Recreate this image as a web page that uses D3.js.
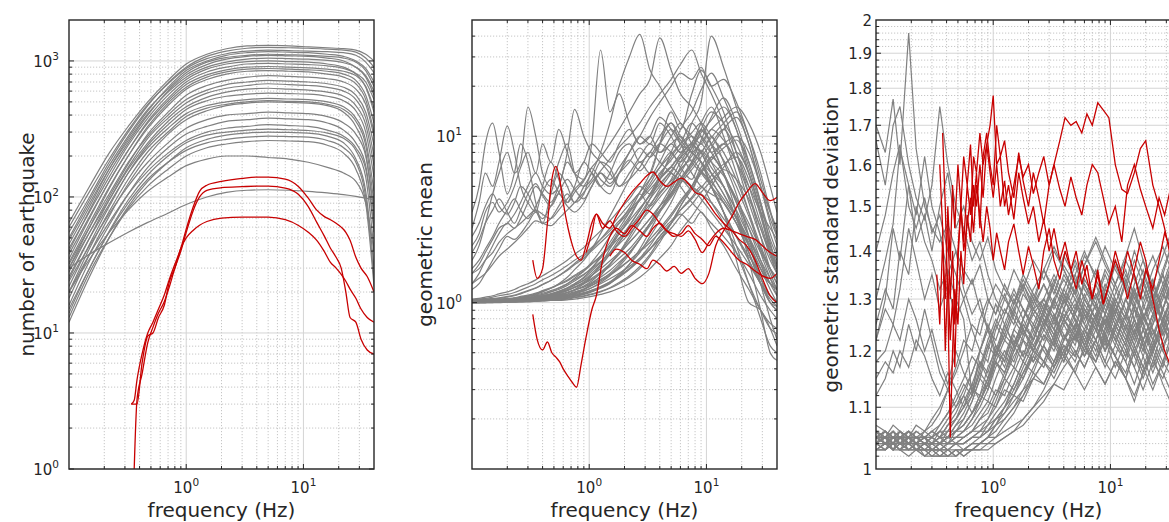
<!DOCTYPE html>
<html>
<head>
<meta charset="utf-8">
<script src="https://cdn.jsdelivr.net/npm/d3@7"></script>
<style>
  body { margin: 0; background: #fff; }
  text { font-family: "DejaVu Sans", sans-serif; fill: #262626; }
</style>
</head>
<body>
<div id="chart"></div>
<script>
/* CONSTANTS */
const width = 1169,
  height = 522,
  plotTop = 20,
  plotBottom = 469,
  panelW = 305,
  freqDomain = [0.1, 40];

/* DATA - number of earthquakes per station */
const eqFreq = [0.1, 0.15, 0.22, 0.32, 0.47, 0.7, 1, 1.5, 2.2, 3.3, 5, 7.5, 11, 16, 22, 28, 34, 40];
const eqGray = [
  [65,120,210,330,500,720,950,1120,1230,1290,1300,1290,1270,1250,1230,1200,1120,1000],
  [55,100,180,300,470,690,900,1080,1180,1240,1260,1250,1240,1220,1200,1160,1050,900],
  [60,110,190,310,480,680,880,1040,1130,1180,1200,1190,1180,1170,1150,1100,980,820],
  [45,85,160,270,430,640,850,1000,1100,1150,1170,1160,1150,1120,1080,1000,880,700],
  [50,95,170,280,440,620,820,980,1060,1100,1120,1110,1100,1080,1050,980,850,650],
  [40,80,150,250,400,600,790,940,1030,1080,1100,1090,1080,1050,1000,900,760,560],
  [48,90,160,260,410,590,760,900,980,1030,1050,1040,1030,1010,970,900,780,600],
  [42,78,140,240,380,560,730,870,950,990,1000,990,980,950,900,800,650,450],
  [35,70,130,220,360,530,700,830,900,950,960,950,940,920,880,810,700,520],
  [38,72,130,220,350,510,670,790,860,900,910,900,890,870,840,780,640,420],
  [30,60,115,200,330,490,640,760,830,870,880,870,860,840,800,720,560,350],
  [33,64,118,200,320,470,620,730,800,840,850,840,830,800,760,680,520,300],
  [28,55,100,175,290,420,560,660,720,760,780,770,760,740,700,620,480,280],
  [32,60,105,180,280,400,520,610,670,700,720,710,700,680,640,560,420,240],
  [25,50,95,165,270,380,490,580,630,660,680,670,660,640,600,520,380,200],
  [30,55,95,160,250,360,460,540,590,620,630,620,610,590,550,470,340,170],
  [22,45,85,150,240,340,440,510,550,570,580,575,570,550,510,430,300,140],
  [26,50,88,150,230,320,410,470,500,520,530,525,520,500,460,380,260,110],
  [20,42,78,135,215,300,390,450,480,500,510,505,500,480,440,360,240,90],
  [18,38,72,125,200,290,370,430,470,490,500,495,490,470,420,330,210,70],
  [24,44,75,120,180,250,320,370,400,410,420,415,410,390,350,290,200,80],
  [16,34,62,105,165,230,290,330,360,370,380,375,370,350,310,250,170,55],
  [20,38,65,105,155,210,260,300,320,330,340,335,330,310,280,230,160,60],
  [14,30,56,95,145,200,250,285,300,310,315,312,308,295,270,220,140,40],
  [12,26,50,85,130,180,230,265,285,295,300,298,295,280,250,190,110,30],
  [15,30,55,90,135,180,220,250,265,275,280,278,275,260,230,180,100,25],
  [13,28,50,82,120,160,200,230,245,255,260,258,255,240,210,160,90,22],
  [20,35,55,80,110,140,170,190,200,200,195,190,180,165,150,130,90,40],
  [30,38,46,55,65,76,88,100,108,112,113,112,110,107,104,101,98,95]
];
const eqRedFreq = [0.34,0.36,0.38,0.42,0.47,0.52,0.58,0.65,0.72,0.8,0.9,1.0,1.15,1.3,1.5,2,3,4,5,7,9,11,13,15,17,19,21,23,25,28,31,35,40];
const eqRed = [
  [3,3.2,4.5,7,10,12,15,19,25,32,42,58,85,110,122,130,137,140,140,135,120,98,80,72,68,64,60,55,48,36,30,26,20],
  [null,1,3.2,5,8.5,11,14,17,22,30,40,55,80,100,112,117,119,120,120,116,105,85,65,52,42,36,30,20,13,12,9,7.5,7],
  [3,3,3,6,9.5,10,13,16,24,30,42,50,57,62,66,70,71,71,71,68,62,55,48,40,33,30,27,24,21,18,15,13,12]
];

/* DATA - geometric mean */
const gmFreq = [0.1,0.115,0.13,0.15,0.17,0.2,0.23,0.26,0.3,0.35,0.4,0.47,0.55,0.65,0.75,0.9,1.05,1.25,1.5,1.8,2.2,2.7,3.3,4,5,6,7.5,9,11,14,18,23,29,35,40];
const gmGray = [
  [1.02,1.02,1.02,1.02,1.02,1.03,1.03,1.03,1.04,1.05,1.06,1.08,1.1,1.15,1.2,1.3,1.45,1.7,2.1,2.6,3.2,4.2,5.5,7,9,8,12,16,40,26,15,9,5,3.5,2.8],
  [1.01,1.01,1.01,1.01,1.02,1.02,1.02,1.03,1.03,1.04,1.05,1.06,1.08,1.1,1.14,1.2,1.3,1.45,1.7,2,2.5,3.2,4.2,5.5,8,11,14,19,24,17,11,6,3.5,2.2,1.8],
  [1.02,1.02,1.03,1.03,1.03,1.04,1.04,1.05,1.06,1.07,1.09,1.12,1.16,1.22,1.3,1.42,1.6,1.9,2.3,2.8,3.5,4.6,6,9,14,11,18,25,20,14,8,4.5,2.5,1.6,1.3],
  [1.0,1.0,1.0,1.01,1.01,1.01,1.01,1.02,1.02,1.03,1.03,1.04,1.05,1.07,1.09,1.12,1.16,1.22,1.3,1.45,1.7,2.1,2.7,3.5,4.8,6,8,11,14,12,9,6,3.5,2.2,1.7],
  [1.03,1.03,1.03,1.04,1.04,1.05,1.06,1.07,1.09,1.12,1.16,1.22,1.3,1.42,1.58,1.8,2.1,2.6,3.3,4.2,5.5,7,6,9,12,10,8,7,6,5,3.5,2.2,1.4,1,0.9],
  [1.01,1.01,1.02,1.02,1.02,1.03,1.03,1.04,1.05,1.06,1.08,1.1,1.13,1.18,1.24,1.33,1.45,1.65,1.95,2.3,2.9,3.6,4.5,5.8,7.5,9,12,10,8,9,7,5,3.5,2.8,2.4],
  [1.0,1.0,1.01,1.01,1.01,1.01,1.02,1.02,1.02,1.03,1.04,1.05,1.06,1.08,1.1,1.13,1.17,1.24,1.33,1.48,1.7,2,2.5,3.1,4,5.2,7,9.5,13,17,12,7,4,2.6,2],
  [1.02,1.02,1.02,1.03,1.03,1.03,1.04,1.04,1.05,1.06,1.07,1.09,1.11,1.15,1.19,1.26,1.35,1.5,1.7,2,2.4,3,3.8,4.8,6,7.5,9,8,10,7,4.5,2.5,1.3,0.8,0.6],
  [1.01,1.01,1.01,1.01,1.02,1.02,1.02,1.03,1.03,1.04,1.05,1.06,1.08,1.1,1.13,1.17,1.23,1.32,1.45,1.65,1.95,2.4,3,3.8,5,6.5,8.5,11,9,6,3.5,1.8,0.9,0.5,0.45],
  [1.03,1.03,1.04,1.04,1.05,1.05,1.06,1.07,1.08,1.1,1.12,1.16,1.2,1.27,1.35,1.47,1.62,1.85,2.2,2.7,3.3,4.2,5.2,6.5,8,6.5,5.5,7,5,3.5,2.2,1.3,0.8,0.55,0.5],
  [1.0,1.0,1.0,1.0,1.01,1.01,1.01,1.01,1.02,1.02,1.03,1.03,1.04,1.05,1.07,1.09,1.12,1.16,1.22,1.3,1.42,1.6,1.9,2.3,3,3.8,5,6.5,8.5,11,13,9,5,3,2.2],
  [1.02,1.02,1.03,1.03,1.04,1.04,1.05,1.06,1.07,1.08,1.1,1.13,1.17,1.23,1.3,1.4,1.55,1.75,2,2.4,2.9,3.6,4.5,5.5,6.5,7.5,6,5,4.5,4,3,2,1.3,1,0.9],
  [1.01,1.01,1.01,1.02,1.02,1.02,1.03,1.03,1.04,1.05,1.06,1.07,1.09,1.12,1.15,1.2,1.27,1.37,1.5,1.7,2,2.4,3,3.6,4.5,5.5,4.8,6,5,3.5,1.8,1,0.9,0.7,0.55],
  [1.02,1.02,1.02,1.02,1.03,1.03,1.03,1.04,1.04,1.05,1.06,1.07,1.08,1.1,1.12,1.15,1.19,1.25,1.33,1.45,1.6,1.85,2.2,2.7,3.3,4,5,6.2,7.5,9,10,8,5,3.2,2.5],
  [1.01,1.01,1.02,1.02,1.02,1.03,1.03,1.04,1.05,1.06,1.08,1.11,1.15,1.2,1.27,1.37,1.5,1.7,1.95,2.3,2.8,3.4,4.2,5,6,5,4,3.5,3,2.5,2,1.5,1.1,0.9,0.8],
  [1.03,1.03,1.03,1.04,1.04,1.05,1.05,1.06,1.07,1.08,1.1,1.12,1.15,1.19,1.24,1.31,1.4,1.53,1.7,1.95,2.3,2.7,3.2,3.8,4.5,5.5,7,8,6.5,5,3.2,2,1.3,1,0.95],
  [1.0,1.0,1.0,1.01,1.01,1.01,1.01,1.02,1.02,1.02,1.03,1.04,1.05,1.06,1.08,1.1,1.13,1.17,1.23,1.32,1.45,1.65,1.95,2.4,3,3.8,4.8,6,7.5,6,4,2.5,1.7,1.3,1.2],
  [1.02,1.02,1.02,1.03,1.03,1.04,1.05,1.06,1.07,1.09,1.12,1.16,1.22,1.3,1.4,1.55,1.75,2.05,2.5,3,3.7,4.5,3.8,4.5,5.5,7,9,12,15,10,6,3.5,2,1.4,1.1],
  [1.01,1.01,1.01,1.01,1.02,1.02,1.02,1.02,1.03,1.03,1.04,1.05,1.06,1.08,1.1,1.13,1.17,1.23,1.31,1.42,1.58,1.8,2.1,2.5,3,3.6,4.3,5,4,3,2,1.3,0.9,0.7,0.65],
  [1.02,1.02,1.03,1.03,1.03,1.04,1.04,1.05,1.06,1.07,1.08,1.1,1.12,1.15,1.19,1.25,1.32,1.42,1.56,1.75,2,2.4,2.9,3.5,4.3,5.2,6.3,7.5,9,11,8,5,3,2,1.6],
  [1.01,1.01,1.02,1.02,1.02,1.02,1.03,1.03,1.04,1.04,1.05,1.06,1.07,1.09,1.11,1.14,1.18,1.24,1.32,1.44,1.6,1.8,2.1,2.5,3,3.4,3,3.5,2.8,2.2,1.6,1.2,0.9,0.75,0.7],
  [1.0,1.0,1.0,1.0,1.0,1.01,1.01,1.01,1.01,1.02,1.02,1.03,1.03,1.04,1.05,1.07,1.09,1.12,1.16,1.22,1.3,1.42,1.6,1.85,2.2,2.7,3.3,4,5,6.5,8,6,3.5,2,1.5],
  [1.03,1.03,1.04,1.05,1.06,1.08,1.1,1.13,1.17,1.22,1.28,1.36,1.45,1.58,1.72,1.9,2.1,2.4,2.8,3.3,3.9,4.6,5.5,6.5,7.8,9,10.5,12,10,8,5.5,3.5,2.2,1.6,1.3],
  [1.02,1.02,1.03,1.03,1.04,1.05,1.06,1.08,1.1,1.13,1.17,1.22,1.28,1.35,1.44,1.55,1.7,1.9,2.2,2.6,3.1,3.7,4.4,5.2,6.2,7.4,8.8,10.5,12.5,15,11,6.5,3.8,2.4,1.9],
  [1.01,1.01,1.02,1.02,1.02,1.03,1.04,1.05,1.06,1.08,1.1,1.13,1.17,1.22,1.28,1.36,1.46,1.6,1.78,2,2.3,2.7,3.2,3.8,4.6,5.6,6.8,8.2,7,5.8,4.2,2.8,1.8,1.3,1.1],
  [1.04,1.05,1.06,1.08,1.1,1.12,1.15,1.19,1.24,1.3,1.37,1.45,1.55,1.67,1.8,1.95,2.15,2.4,2.7,3.1,3.6,4.2,5,6,7.2,8.5,10,9,11,9.5,7,4.5,2.8,2,1.7],
  [1.02,1.02,1.02,1.03,1.03,1.04,1.04,1.05,1.06,1.07,1.09,1.11,1.14,1.18,1.23,1.3,1.38,1.5,1.65,1.85,2.1,2.5,3,3.6,4.4,5.4,6.6,8,9.8,12,14,10,6,3.6,2.6],
  [1.05,1.06,1.08,1.1,1.13,1.16,1.2,1.25,1.3,1.37,1.45,1.55,1.66,1.8,1.95,2.15,2.4,2.7,3.1,3.6,4.2,5,4.5,5.5,6.5,5.8,5,4.2,3.5,2.8,2.2,1.7,1.3,1.05,0.95],
  [1.01,1.01,1.01,1.02,1.02,1.02,1.03,1.03,1.04,1.05,1.06,1.08,1.1,1.13,1.16,1.21,1.27,1.35,1.46,1.6,1.8,2.05,2.4,2.8,3.4,4.1,5,6,7.2,8.5,9.5,7,4,2.3,1.6],
  [1.03,1.03,1.04,1.04,1.05,1.06,1.07,1.09,1.11,1.14,1.18,1.23,1.29,1.37,1.46,1.58,1.72,1.9,2.15,2.45,2.8,3.3,3.9,4.6,5.4,6.3,7.2,6.2,5.3,4.2,3.2,2.3,1.6,1.2,1],
  [1.02,1.02,1.03,1.03,1.04,1.05,1.06,1.07,1.09,1.11,1.14,1.18,1.23,1.3,1.38,1.48,1.6,1.76,1.98,2.25,2.6,3.05,3.6,4.3,5.2,6.3,7.6,9.2,11,13,15,12,8,5,3.5],
  [1.0,1.01,1.01,1.01,1.01,1.02,1.02,1.03,1.03,1.04,1.05,1.07,1.09,1.11,1.14,1.18,1.23,1.3,1.39,1.5,1.65,1.85,2.1,2.4,2.8,3.3,3.9,4.6,5.4,6.3,5.5,4.2,2.8,1.9,1.5],
  [1.04,1.04,1.05,1.06,1.07,1.09,1.11,1.14,1.18,1.23,1.29,1.36,1.45,1.56,1.69,1.85,2.05,2.3,2.6,3,3.5,4.1,4.8,5.6,6.6,7.8,9.2,10.8,9,7.2,5,3.3,2.1,1.5,1.2],
  [1.01,1.02,1.02,1.02,1.03,1.03,1.04,1.04,1.05,1.06,1.08,1.1,1.12,1.15,1.19,1.24,1.3,1.38,1.48,1.62,1.8,2.02,2.3,2.65,3.1,3.6,4.2,4.9,5.8,6.8,7.5,5.5,3.3,2.1,1.6],
  [3.5,5,9,12,8,4.5,6,9,7,4,3,4.5,6,5,4,4.5,6,5,4.5,6,8,10,9,12,10,8,9,7,5,3.5,2.5,1.8,1.3,1.1,1],
  [2.8,4,6,5,7,11.5,8,5,4,3.5,5,7,5.5,4,5,7,6,5,6,8,9,7,8,10,12,9,7,6,5,4,3,2,1.4,1.1,1],
  [1.8,2.2,3,4.5,6,8,6,7,15,10,6,5,7,9,6,5,5.5,7,6.5,5,6,7.5,9,8,10,12,9,8,6,4.5,3.2,2.2,1.6,1.3,1.2],
  [2.2,2.6,3.5,4,3.5,4,5,6.5,8,6,9,7,11,8,6,7,9,8,7,9,11,9,10,13,11,9,8,7,5.5,4,3,2.2,1.6,1.3,1.2],
  [1.5,1.7,2,2.4,2.8,3,3.4,4,5,6,5,4.5,5,8,14.5,10,8,7,6,5,5.5,6.5,8,7,6,5.5,5,4.5,4,3.2,2.5,1.9,1.5,1.3,1.2],
  [1.3,1.5,1.8,2.2,2.6,3,2.8,3.2,4,5,4.5,4,5,7,6,5.5,9,33,14,18,12,9,10,8,9,10,8,7,5,3.5,2.5,1.8,1.3,1.1,1],
  [1.2,1.3,1.5,1.8,2.1,2.5,2.4,2.6,3,3.5,3,3.2,3.8,4.5,4,5,6,8,12,20,30,41,25,20,15,12,10,8,6,4.5,3.3,2.4,1.7,1.3,1.2],
  [1.5,1.6,1.8,2,2.3,2.6,2.8,3,3.3,3.6,3.4,3.2,3.6,4.2,4.8,5.5,6.5,7.5,9,11,14,18,22,39,25,18,15,12,9,6,4,2.8,2,1.6,1.4],
  [1.3,1.4,1.5,1.7,1.9,2.1,2.3,2.5,2.8,3.1,3,2.9,3.2,3.6,4,4.6,5.3,6.2,7.3,8.6,10,12,15,18,22,27,33,24,18,12,7,4,2.5,1.8,1.5],
  [2.5,3,3.8,4.5,3.8,3.4,4,5,4.5,3.6,3.2,3.8,4.5,3.8,3.5,4,5,6,5.5,6.5,8,10,13,16,20,24,22,26,20,22,16,10,5.5,3.5,2.5],
  [2,2.4,3,3.6,4.2,3.5,3,3.6,4.5,5.2,4.4,3.8,4.6,5.5,4.8,4.2,5,6,5.2,6,7,8.5,7.5,9,11,9.5,8,9,7,5,3.6,2.5,1.8,1.4,1.2],
  [1.6,1.8,2.1,2.5,3,3.6,4.2,3.6,3.2,3.8,4.6,5.5,4.6,4,4.6,5.4,6.4,5.5,5,6,7.2,6.2,7.5,9,8,7,8.5,10,8,6,4.2,3,2.1,1.6,1.4]
];
const gmRedFreq = [0.33,0.36,0.4,0.44,0.48,0.52,0.56,0.6,0.66,0.72,0.78,0.85,0.94,1.05,1.15,1.3,1.5,1.7,2.0,2.3,2.7,3.1,3.5,4.0,4.6,5.3,6.1,7,8,9.2,10.5,12,14,16.5,19,22,26,30,35,40];
const gmRed = [
  [0.85,0.6,0.52,0.58,0.5,0.47,0.44,0.4,0.36,0.33,0.31,0.42,0.62,0.9,1.1,1.8,2.5,2.8,2.6,2.9,2.7,2.5,2.8,3.0,2.7,2.5,2.6,2.9,2.6,2.4,2.2,2.5,2.3,2.0,1.8,1.7,1.55,1.45,1.4,1.5],
  [1.8,1.4,1.6,3,5.5,6.6,5.5,4,2.8,2.2,1.9,1.8,2.2,3.0,3.4,2.8,3.1,2.7,2.5,2.8,3.2,3.6,3.4,3.0,2.7,2.6,2.5,2.7,2.4,2.0,2.3,2.6,2.8,2.7,2.6,2.5,2.4,2.2,2.0,1.9],
  [null,null,null,null,null,null,null,null,null,null,null,null,2.0,2.6,3.4,3.0,2.8,3.3,4.0,4.6,5.2,5.8,6.1,5.4,5.0,5.3,5.6,5.2,4.6,4.4,3.9,3.4,3.0,2.7,2.4,2.2,1.8,1.4,1.1,1.0],
  [null,null,null,null,null,null,null,null,null,null,null,null,null,null,null,null,1.9,2.1,2.0,1.8,1.7,1.6,1.8,1.7,1.55,1.65,1.5,1.6,1.4,1.3,1.5,2.2,2.7,3.3,4.0,4.6,5.2,4.6,4.1,4.3]
];

/* DATA - geometric standard deviation */
const sdFreq = [0.1,0.12,0.14,0.16,0.19,0.22,0.26,0.3,0.35,0.41,0.48,0.56,0.66,0.77,0.9,1.05,1.25,1.5,1.8,2.2,2.7,3.3,4,5,6,7.5,9,11,13.5,16,19,23,28,34];
const sdGray = [
  [1.04,1.05,1.03,1.05,1.04,1.04,1.05,1.03,1.04,1.06,1.08,1.1,1.13,1.12,1.17,1.2,1.18,1.24,1.22,1.28,1.25,1.3,1.26,1.32,1.27,1.24,1.3,1.26,1.22,1.28,1.25,1.2,1.26,1.3],
  [1.05,1.04,1.06,1.04,1.05,1.03,1.04,1.04,1.05,1.04,1.06,1.07,1.09,1.12,1.11,1.15,1.19,1.17,1.22,1.2,1.26,1.23,1.28,1.24,1.21,1.27,1.23,1.19,1.25,1.21,1.17,1.22,1.28,1.35],
  [1.03,1.04,1.04,1.03,1.05,1.04,1.03,1.04,1.03,1.04,1.04,1.05,1.06,1.08,1.1,1.13,1.12,1.16,1.2,1.18,1.23,1.21,1.26,1.22,1.29,1.25,1.2,1.24,1.3,1.26,1.22,1.27,1.32,1.38],
  [1.06,1.05,1.04,1.06,1.05,1.04,1.05,1.06,1.05,1.07,1.09,1.12,1.16,1.2,1.18,1.24,1.28,1.25,1.31,1.28,1.33,1.29,1.35,1.31,1.27,1.33,1.28,1.24,1.3,1.35,1.29,1.24,1.2,1.26],
  [1.04,1.03,1.05,1.04,1.03,1.04,1.03,1.03,1.04,1.03,1.04,1.04,1.05,1.05,1.07,1.08,1.1,1.12,1.11,1.15,1.18,1.16,1.2,1.23,1.19,1.22,1.18,1.15,1.2,1.17,1.13,1.18,1.24,1.3],
  [1.05,1.06,1.05,1.04,1.06,1.05,1.04,1.05,1.07,1.09,1.12,1.15,1.19,1.17,1.22,1.26,1.23,1.28,1.32,1.27,1.3,1.35,1.31,1.27,1.34,1.3,1.36,1.32,1.27,1.33,1.38,1.31,1.26,1.22],
  [1.03,1.04,1.03,1.04,1.04,1.03,1.04,1.03,1.03,1.04,1.04,1.04,1.05,1.06,1.06,1.08,1.09,1.11,1.13,1.15,1.14,1.18,1.21,1.19,1.24,1.21,1.17,1.21,1.18,1.14,1.19,1.24,1.2,1.16],
  [1.06,1.04,1.05,1.05,1.04,1.06,1.05,1.05,1.06,1.06,1.08,1.1,1.12,1.16,1.14,1.19,1.23,1.21,1.26,1.3,1.26,1.22,1.28,1.33,1.28,1.25,1.31,1.27,1.34,1.29,1.25,1.3,1.36,1.42],
  [1.04,1.05,1.04,1.06,1.05,1.05,1.04,1.05,1.04,1.05,1.05,1.06,1.07,1.09,1.11,1.1,1.14,1.17,1.15,1.2,1.24,1.21,1.18,1.23,1.2,1.26,1.22,1.28,1.23,1.19,1.24,1.29,1.35,1.28],
  [1.05,1.05,1.06,1.05,1.05,1.04,1.06,1.07,1.09,1.13,1.17,1.22,1.2,1.26,1.3,1.27,1.33,1.29,1.35,1.31,1.28,1.34,1.3,1.37,1.32,1.28,1.33,1.29,1.35,1.31,1.26,1.32,1.28,1.24],
  [1.03,1.03,1.04,1.03,1.03,1.04,1.03,1.03,1.03,1.03,1.04,1.03,1.04,1.04,1.05,1.05,1.06,1.07,1.08,1.1,1.12,1.14,1.13,1.17,1.2,1.18,1.22,1.19,1.16,1.21,1.17,1.13,1.18,1.22],
  [1.04,1.06,1.05,1.04,1.05,1.06,1.05,1.04,1.05,1.06,1.06,1.07,1.09,1.11,1.14,1.18,1.16,1.21,1.25,1.22,1.27,1.24,1.3,1.26,1.23,1.29,1.25,1.21,1.27,1.23,1.29,1.34,1.27,1.22],
  [1.05,1.04,1.03,1.05,1.06,1.04,1.05,1.04,1.06,1.05,1.07,1.08,1.11,1.15,1.13,1.18,1.22,1.2,1.24,1.21,1.25,1.29,1.25,1.21,1.27,1.24,1.2,1.25,1.21,1.26,1.32,1.27,1.23,1.3],
  [1.04,1.03,1.04,1.05,1.04,1.03,1.04,1.04,1.04,1.05,1.04,1.05,1.06,1.07,1.08,1.1,1.13,1.12,1.16,1.19,1.17,1.22,1.26,1.23,1.19,1.24,1.29,1.25,1.21,1.26,1.22,1.18,1.15,1.2],
  [1.06,1.05,1.07,1.06,1.05,1.07,1.06,1.08,1.1,1.13,1.16,1.2,1.25,1.23,1.29,1.33,1.3,1.36,1.32,1.38,1.34,1.4,1.36,1.31,1.37,1.42,1.37,1.33,1.38,1.34,1.3,1.36,1.41,1.35],
  [1.03,1.04,1.04,1.05,1.03,1.04,1.04,1.03,1.04,1.04,1.05,1.05,1.06,1.08,1.09,1.12,1.15,1.13,1.17,1.21,1.18,1.15,1.19,1.16,1.21,1.17,1.14,1.18,1.15,1.11,1.16,1.2,1.25,1.31],
  [1.05,1.05,1.04,1.05,1.06,1.05,1.06,1.05,1.06,1.08,1.1,1.13,1.16,1.2,1.24,1.22,1.27,1.31,1.28,1.24,1.29,1.26,1.32,1.28,1.33,1.29,1.25,1.31,1.36,1.3,1.34,1.28,1.33,1.39],
  [1.04,1.04,1.05,1.04,1.04,1.05,1.04,1.04,1.05,1.04,1.05,1.05,1.06,1.06,1.07,1.09,1.11,1.14,1.18,1.16,1.21,1.18,1.23,1.2,1.17,1.22,1.27,1.23,1.19,1.24,1.2,1.25,1.31,1.37],
  [1.05,1.06,1.05,1.06,1.04,1.05,1.05,1.06,1.05,1.07,1.08,1.11,1.14,1.18,1.16,1.21,1.19,1.24,1.28,1.25,1.3,1.27,1.22,1.27,1.31,1.26,1.23,1.28,1.24,1.29,1.25,1.21,1.17,1.23],
  [1.03,1.04,1.03,1.03,1.04,1.04,1.03,1.04,1.03,1.04,1.04,1.04,1.05,1.05,1.06,1.07,1.08,1.1,1.12,1.15,1.18,1.22,1.19,1.24,1.2,1.25,1.21,1.27,1.23,1.19,1.15,1.2,1.16,1.12],
  [1.05,1.04,1.05,1.05,1.06,1.05,1.05,1.06,1.07,1.09,1.11,1.14,1.12,1.17,1.21,1.25,1.22,1.27,1.24,1.29,1.33,1.28,1.32,1.38,1.33,1.29,1.35,1.3,1.26,1.31,1.36,1.3,1.25,1.21],
  [1.04,1.05,1.04,1.04,1.05,1.04,1.05,1.05,1.04,1.05,1.06,1.06,1.08,1.1,1.13,1.17,1.2,1.18,1.23,1.27,1.24,1.3,1.34,1.3,1.26,1.31,1.27,1.33,1.28,1.23,1.28,1.33,1.39,1.45],
  [1.05,1.04,1.04,1.03,1.04,1.03,1.03,1.02,1.03,1.02,1.03,1.03,1.04,1.05,1.06,1.08,1.1,1.13,1.16,1.2,1.18,1.23,1.27,1.24,1.3,1.26,1.32,1.28,1.24,1.29,1.34,1.28,1.23,1.27],
  [1.06,1.05,1.05,1.04,1.04,1.03,1.04,1.03,1.03,1.03,1.02,1.03,1.03,1.04,1.05,1.07,1.09,1.12,1.15,1.19,1.23,1.2,1.25,1.29,1.25,1.31,1.27,1.22,1.27,1.32,1.26,1.3,1.35,1.3],
  [1.04,1.05,1.03,1.04,1.03,1.04,1.02,1.03,1.02,1.03,1.03,1.02,1.03,1.03,1.04,1.04,1.05,1.06,1.08,1.1,1.13,1.17,1.21,1.18,1.23,1.19,1.24,1.29,1.25,1.21,1.26,1.31,1.25,1.2],
  [1.07,1.06,1.05,1.06,1.05,1.04,1.05,1.04,1.04,1.05,1.06,1.08,1.11,1.15,1.2,1.25,1.3,1.27,1.33,1.29,1.36,1.32,1.28,1.35,1.4,1.34,1.3,1.37,1.32,1.28,1.34,1.39,1.33,1.28],
  [1.04,1.04,1.03,1.04,1.03,1.03,1.03,1.02,1.02,1.03,1.02,1.03,1.03,1.04,1.04,1.05,1.07,1.09,1.12,1.16,1.14,1.18,1.22,1.26,1.22,1.18,1.23,1.19,1.15,1.2,1.24,1.19,1.14,1.1],
  [1.05,1.06,1.04,1.05,1.05,1.04,1.04,1.05,1.04,1.05,1.07,1.09,1.12,1.16,1.21,1.19,1.25,1.3,1.26,1.32,1.36,1.31,1.37,1.33,1.39,1.35,1.41,1.36,1.32,1.38,1.33,1.29,1.35,1.42],
  [1.03,1.04,1.04,1.03,1.03,1.03,1.02,1.03,1.02,1.02,1.03,1.02,1.03,1.03,1.03,1.04,1.05,1.06,1.07,1.09,1.11,1.14,1.17,1.2,1.17,1.22,1.26,1.22,1.27,1.23,1.19,1.14,1.18,1.24],
  [1.06,1.05,1.06,1.05,1.06,1.05,1.05,1.04,1.05,1.05,1.06,1.07,1.09,1.12,1.15,1.19,1.24,1.29,1.34,1.3,1.36,1.41,1.36,1.31,1.37,1.43,1.38,1.33,1.39,1.45,1.38,1.33,1.28,1.33],
  [1.04,1.05,1.05,1.04,1.04,1.03,1.03,1.03,1.03,1.02,1.03,1.03,1.04,1.04,1.05,1.06,1.08,1.1,1.13,1.17,1.21,1.26,1.22,1.28,1.33,1.28,1.24,1.3,1.26,1.32,1.27,1.22,1.28,1.34],
  [1.05,1.04,1.05,1.04,1.05,1.04,1.04,1.03,1.04,1.04,1.05,1.06,1.08,1.11,1.14,1.18,1.16,1.21,1.26,1.31,1.27,1.33,1.29,1.35,1.3,1.26,1.32,1.38,1.33,1.28,1.22,1.27,1.32,1.37],
  [1.03,1.03,1.04,1.03,1.02,1.03,1.02,1.02,1.02,1.02,1.02,1.03,1.03,1.04,1.05,1.07,1.1,1.14,1.18,1.23,1.28,1.24,1.3,1.26,1.21,1.27,1.23,1.29,1.24,1.2,1.16,1.21,1.26,1.31],
  [1.05,1.06,1.05,1.05,1.04,1.05,1.04,1.04,1.04,1.03,1.04,1.04,1.05,1.06,1.08,1.11,1.15,1.2,1.25,1.22,1.28,1.33,1.39,1.34,1.3,1.36,1.31,1.27,1.33,1.4,1.35,1.3,1.26,1.31],
  [1.7,1.63,1.77,1.6,1.96,1.64,1.5,1.45,1.42,1.46,1.4,1.36,1.33,1.37,1.3,1.27,1.31,1.26,1.23,1.28,1.25,1.21,1.26,1.3,1.25,1.22,1.27,1.23,1.19,1.24,1.2,1.26,1.31,1.27],
  [1.66,1.55,1.7,1.75,1.6,1.52,1.47,1.55,1.75,1.6,1.5,1.45,1.38,1.42,1.35,1.3,1.27,1.32,1.28,1.24,1.29,1.25,1.3,1.26,1.22,1.27,1.31,1.26,1.22,1.28,1.24,1.2,1.25,1.21],
  [1.3,1.38,1.46,1.64,1.55,1.42,1.48,1.4,1.5,1.58,1.45,1.5,1.42,1.38,1.43,1.36,1.32,1.29,1.33,1.28,1.3,1.26,1.31,1.27,1.24,1.29,1.25,1.3,1.26,1.22,1.27,1.23,1.28,1.34],
  [1.22,1.28,1.25,1.32,1.45,1.38,1.3,1.35,1.28,1.33,1.26,1.3,1.24,1.2,1.25,1.21,1.18,1.23,1.19,1.24,1.2,1.17,1.22,1.25,1.21,1.18,1.23,1.19,1.15,1.2,1.16,1.21,1.26,1.22],
  [1.18,1.2,1.25,1.22,1.3,1.26,1.2,1.24,1.18,1.14,1.2,1.16,1.13,1.18,1.15,1.2,1.17,1.22,1.19,1.25,1.22,1.27,1.23,1.19,1.24,1.2,1.26,1.22,1.18,1.23,1.27,1.22,1.18,1.15],
  [1.25,1.32,1.28,1.4,1.35,1.5,1.42,1.38,1.32,1.36,1.3,1.26,1.12,1.2,1.24,1.19,1.23,1.28,1.24,1.2,1.26,1.22,1.18,1.23,1.27,1.22,1.18,1.24,1.2,1.25,1.21,1.17,1.22,1.28],
  [1.4,1.48,1.58,1.65,1.5,1.45,1.52,1.44,1.48,1.4,1.35,1.3,1.34,1.28,1.24,1.29,1.25,1.21,1.26,1.22,1.28,1.24,1.2,1.25,1.3,1.26,1.22,1.17,1.22,1.26,1.21,1.25,1.3,1.36],
  [1.15,1.18,1.16,1.2,1.17,1.22,1.19,1.15,1.12,1.16,1.13,1.1,1.14,1.11,1.15,1.18,1.15,1.19,1.22,1.18,1.21,1.17,1.2,1.16,1.13,1.17,1.14,1.18,1.15,1.12,1.16,1.2,1.24,1.28],
  [1.22,1.3,1.45,1.38,1.55,1.48,1.62,1.5,1.44,1.35,1.4,1.32,1.27,1.3,1.24,1.2,1.25,1.21,1.18,1.22,1.27,1.23,1.19,1.25,1.21,1.26,1.3,1.25,1.21,1.17,1.22,1.27,1.32,1.26],
  [1.12,1.15,1.2,1.17,1.25,1.2,1.28,1.22,1.16,1.13,1.1,1.12,1.09,1.11,1.14,1.12,1.16,1.2,1.24,1.2,1.25,1.3,1.26,1.22,1.28,1.24,1.2,1.25,1.3,1.26,1.21,1.16,1.21,1.25]
];
const sdRedFreq = [0.33,0.35,0.37,0.39,0.41,0.43,0.45,0.47,0.5,0.53,0.56,0.6,0.64,0.68,0.72,0.77,0.82,0.88,0.94,1.0,1.07,1.15,1.25,1.35,1.5,1.65,1.8,2.0,2.2,2.45,2.7,3.0,3.3,3.7,4.1,4.6,5.1,5.7,6.3,7.0,7.8,8.7,9.7,11,12.5,14,16,18,20,23,26,29,33];
const sdRed = [
  [null,null,1.68,1.5,1.3,1.05,1.2,1.32,1.25,1.4,1.33,1.48,1.42,1.55,1.5,1.6,1.52,1.65,1.7,1.78,1.6,1.62,1.5,1.55,1.47,1.58,1.52,1.46,1.5,1.42,1.47,1.4,1.45,1.38,1.42,1.36,1.4,1.33,1.37,1.3,1.35,1.29,1.33,1.38,1.34,1.4,1.35,1.3,1.36,1.32,1.38,1.44,1.4],
  [1.35,1.25,1.42,1.3,1.5,1.38,1.55,1.45,1.6,1.5,1.42,1.55,1.48,1.62,1.58,1.68,1.6,1.65,1.58,1.52,1.6,1.5,1.56,1.48,1.55,1.62,1.57,1.6,1.53,1.58,1.62,1.55,1.6,1.66,1.72,1.7,1.71,1.68,1.73,1.7,1.76,1.74,1.72,1.6,1.54,1.53,1.58,1.64,1.66,1.55,1.5,1.45,1.38],
  [null,1.6,1.45,1.2,1.35,1.22,1.3,1.17,1.4,1.5,1.62,1.55,1.65,1.5,1.58,1.45,1.62,1.68,1.6,1.55,1.7,1.62,1.66,1.58,1.52,1.63,1.56,1.5,1.58,1.52,1.46,1.55,1.6,1.54,1.5,1.57,1.52,1.48,1.55,1.6,1.58,1.52,1.46,1.5,1.42,1.55,1.6,1.54,1.5,1.45,1.52,1.48,1.55],
  [null,null,null,null,1.45,1.3,1.4,1.25,1.38,1.5,1.4,1.46,1.52,1.44,1.55,1.48,1.42,1.5,1.45,1.38,1.44,1.4,1.36,1.42,1.46,1.4,1.35,1.41,1.37,1.32,1.4,1.45,1.38,1.34,1.4,1.36,1.32,1.38,1.34,1.3,1.36,1.29,1.33,1.4,1.35,1.3,1.36,1.42,1.38,1.3,1.24,1.2,1.17]
];

/* TICK LABELS */
const freqTicks = [1, 10];
const eqTicks = [1, 10, 100, 1000];
const gmTicks = [1, 10];
const sdTicks = [1, 1.1, 1.2, 1.3, 1.4, 1.5, 1.6, 1.7, 1.8, 1.9, 2];
const sdTickText = ["1", "1.1", "1.2", "1.3", "1.4", "1.5", "1.6", "1.7", "1.8", "1.9", "2"];

const gray = "#808080", red = "#c80000", ink = "#262626";

const svg = d3.select("#chart")
  .append("svg")
  .attr("width", width)
  .attr("height", height);

// minor ticks of a log axis (2..9 in every decade), ends excluded
function logMinor(lo, hi) {
  const out = [];
  for (let e = Math.floor(Math.log10(lo)); e <= Math.ceil(Math.log10(hi)); e++) {
    for (let k = 2; k <= 9; k++) {
      const v = k * Math.pow(10, e);
      if (v > lo * 1.0001 && v < hi * 0.9999) out.push(v);
    }
  }
  return out;
}

function powLabel(t, v) {
  t.append("tspan").text("10");
  t.append("tspan").attr("font-size", 10.5).attr("dy", -7).text(Math.round(Math.log10(v)));
}

const panels = [
  { id: "eq", left: 69, yDomain: [1, 2000], yMajor: eqTicks, yMinor: logMinor(1, 2000),
    yLabels: eqTicks, yText: null, title: "number of earthquake", titleX: 34,
    freq: eqFreq, lines: eqGray, redFreq: eqRedFreq, red: eqRed, curve: d3.curveMonotoneX },
  { id: "gm", left: 472, yDomain: [0.1, 50], yMajor: gmTicks, yMinor: logMinor(0.1, 50),
    yLabels: gmTicks, yText: null, title: "geometric mean", titleX: 432,
    freq: gmFreq, lines: gmGray, redFreq: gmRedFreq, red: gmRed, curve: d3.curveMonotoneX },
  { id: "sd", left: 876, yDomain: [1, 2], yMajor: sdTicks.slice(1, -1),
    yMinor: d3.range(51).map(i => 1 + i * 0.02).filter(v => v > 1.001 && v < 1.999 && Math.abs(v * 10 - Math.round(v * 10)) > 0.01),
    yLabels: sdTicks, yText: sdTickText, title: "geometric standard deviation", titleX: 838,
    freq: sdFreq, lines: sdGray, redFreq: sdRedFreq, red: sdRed, curve: d3.curveLinear }
];

panels.forEach(p => {
  const right = p.left + panelW;
  const x = d3.scaleLog().domain(freqDomain).range([p.left, right]);
  const y = d3.scaleLog().domain(p.yDomain).range([plotBottom, plotTop]);
  const xMinor = logMinor(freqDomain[0], freqDomain[1]);

  const g = svg.append("g").attr("class", "panel-" + p.id);

  g.append("clipPath").attr("id", "clip-" + p.id)
    .append("rect")
    .attr("x", p.left).attr("y", plotTop)
    .attr("width", panelW).attr("height", plotBottom - plotTop);

  // grid - minor dotted, major solid
  const grid = g.append("g").attr("class", "grid");
  grid.selectAll(".xminor").data(xMinor).join("line")
    .attr("x1", d => x(d)).attr("x2", d => x(d))
    .attr("y1", plotTop).attr("y2", plotBottom)
    .attr("stroke", "#b8b8b8").attr("stroke-width", 0.8).attr("stroke-dasharray", "1.2,1.8");
  grid.selectAll(".yminor").data(p.yMinor).join("line")
    .attr("x1", p.left).attr("x2", right)
    .attr("y1", d => y(d)).attr("y2", d => y(d))
    .attr("stroke", "#b8b8b8").attr("stroke-width", 0.8).attr("stroke-dasharray", "1.2,1.8");
  grid.selectAll(".xmajor").data(freqTicks).join("line")
    .attr("x1", d => x(d)).attr("x2", d => x(d))
    .attr("y1", plotTop).attr("y2", plotBottom)
    .attr("stroke", "#d4d4d4").attr("stroke-width", 1);
  grid.append("g").selectAll("line").data(p.yMajor).join("line")
    .attr("x1", p.left).attr("x2", right)
    .attr("y1", d => y(d)).attr("y2", d => y(d))
    .attr("stroke", "#d4d4d4").attr("stroke-width", 1);

  // lines
  const line = d3.line()
    .defined(d => d[1] != null)
    .curve(p.curve)
    .x(d => x(d[0]))
    .y(d => y(d[1]));

  const plot = g.append("g").attr("clip-path", `url(#clip-${p.id})`);
  plot.selectAll(".gray").data(p.lines).join("path")
    .attr("class", "gray")
    .attr("fill", "none")
    .attr("stroke", gray)
    .attr("stroke-width", 1.2)
    .attr("d", vals => line(vals.map((v, i) => [p.freq[i], v])));
  plot.selectAll(".red").data(p.red).join("path")
    .attr("class", "red")
    .attr("fill", "none")
    .attr("stroke", red)
    .attr("stroke-width", 1.3)
    .attr("d", vals => line(vals.map((v, i) => [p.redFreq[i], v])));

  // box
  g.append("rect")
    .attr("x", p.left).attr("y", plotTop)
    .attr("width", panelW).attr("height", plotBottom - plotTop)
    .attr("fill", "none").attr("stroke", ink).attr("stroke-width", 1.4);

  // inward ticks on all four sides
  const ticks = g.append("g").attr("stroke", ink).attr("stroke-width", 1);
  [[freqTicks, 5], [xMinor, 3]].forEach(([vals, len]) => {
    vals.forEach(v => {
      ticks.append("line").attr("x1", x(v)).attr("x2", x(v)).attr("y1", plotBottom).attr("y2", plotBottom - len);
      ticks.append("line").attr("x1", x(v)).attr("x2", x(v)).attr("y1", plotTop).attr("y2", plotTop + len);
    });
  });
  [[p.yMajor, 5], [p.yMinor, 3]].forEach(([vals, len]) => {
    vals.forEach(v => {
      ticks.append("line").attr("y1", y(v)).attr("y2", y(v)).attr("x1", p.left).attr("x2", p.left + len);
      ticks.append("line").attr("y1", y(v)).attr("y2", y(v)).attr("x1", right).attr("x2", right - len);
    });
  });

  // tick labels
  g.selectAll(".xlab").data(freqTicks).join("text")
    .attr("class", "xlab")
    .attr("x", d => x(d))
    .attr("y", 493)
    .attr("text-anchor", "middle")
    .attr("font-size", 15)
    .each(function (d) { powLabel(d3.select(this), d); });

  g.selectAll(".ylab").data(p.yLabels).join("text")
    .attr("class", "ylab")
    .attr("x", p.yText ? p.left - 4 : p.left - 10)
    .attr("y", d => y(d) + 6)
    .attr("text-anchor", "end")
    .attr("font-size", 15)
    .each(function (d, i) {
      if (p.yText) d3.select(this).text(p.yText[i]);
      else powLabel(d3.select(this), d);
    });

  // axis titles
  g.append("text")
    .attr("x", p.left + panelW / 2)
    .attr("y", 517)
    .attr("text-anchor", "middle")
    .attr("font-size", 20)
    .text("frequency (Hz)");

  g.append("text")
    .attr("transform", `translate(${p.titleX}, ${(plotTop + plotBottom) / 2}) rotate(-90)`)
    .attr("text-anchor", "middle")
    .attr("font-size", 20)
    .text(p.title);
});
</script>
</body>
</html>
